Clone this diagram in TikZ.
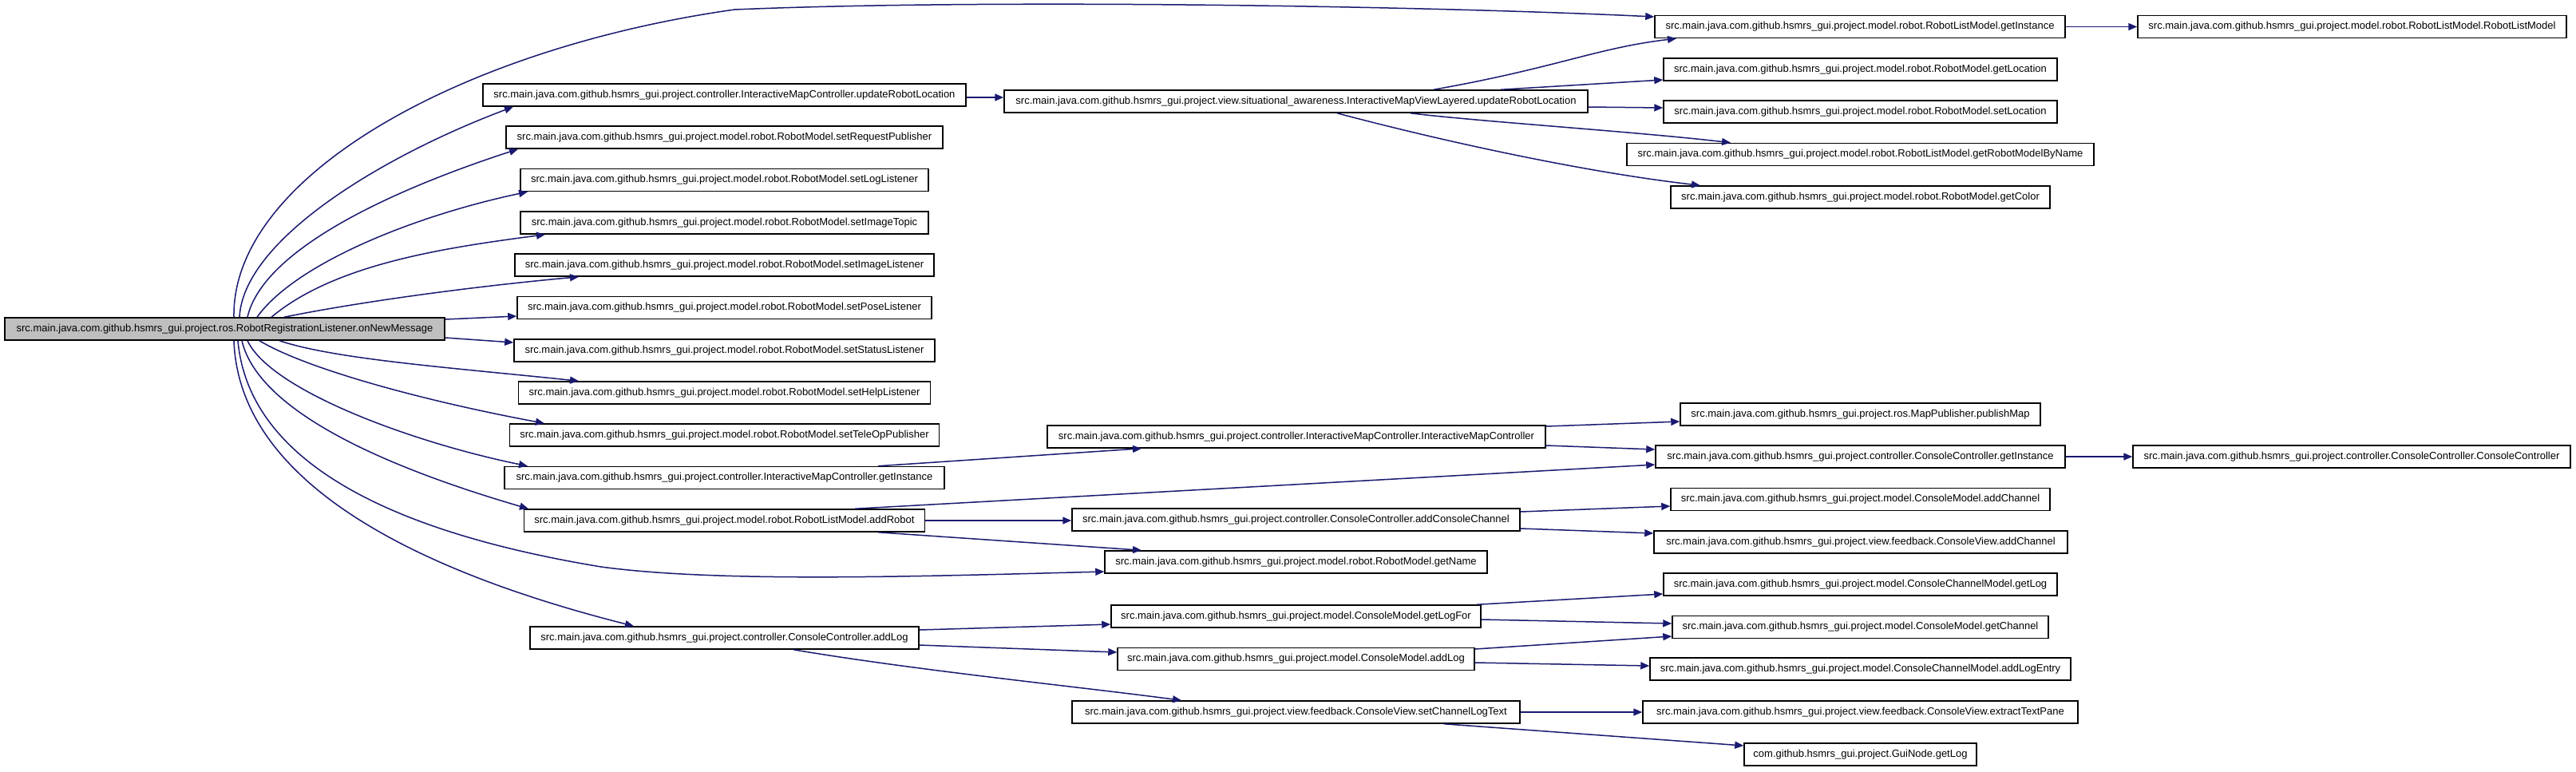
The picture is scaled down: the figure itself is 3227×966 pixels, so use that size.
\documentclass[tikz,border=0pt]{standalone}
\usepackage{fontspec}
\setmainfont{Liberation Sans}
\usetikzlibrary{arrows.meta}
\definecolor{edgec}{HTML}{191970}
\definecolor{rootfill}{HTML}{BFBFBF}
\newcommand{\pfx}{src.main.java.com.github.hsmrs\_gui.project.}
\begin{document}
\begin{tikzpicture}[x=0.5pt,y=-0.5pt,
  fn/.style={draw=black, line width=0.75pt, fill=white, minimum height=14pt, inner xsep=3pt, inner ysep=0pt, font=\fontsize{6.5pt}{7pt}\selectfont, text=black, anchor=center},
  bw/.style={minimum width=#1*0.5pt},
  call/.style={draw=edgec, line width=0.75pt, -{Triangle[length=5.5pt,width=4.5pt]}, fill=none}]
\useasboundingbox[fill=white] (0,0) rectangle (3227,966);
% column 1
\node[fn,bw=551,fill=rootfill] (root) at (281.5,412) {\pfx ros.RobotRegistrationListener.onNewMessage};
% column 2
\node[fn,bw=605] (uRL) at (907.5,119) {\pfx controller.InteractiveMapController.updateRobotLocation};
\node[fn,bw=547] (sRP) at (907.5,172) {\pfx model.robot.RobotModel.setRequestPublisher};
\node[fn,bw=511] (sLL) at (907.5,225.5) {\pfx model.robot.RobotModel.setLogListener};
\node[fn,bw=511] (sIT) at (907.5,279) {\pfx model.robot.RobotModel.setImageTopic};
\node[fn,bw=525] (sIL) at (907.5,332) {\pfx model.robot.RobotModel.setImageListener};
\node[fn,bw=519] (sPL) at (907.5,385.5) {\pfx model.robot.RobotModel.setPoseListener};
\node[fn,bw=527] (sSL) at (907.5,439) {\pfx model.robot.RobotModel.setStatusListener};
\node[fn,bw=516] (sHL) at (907.5,492) {\pfx model.robot.RobotModel.setHelpListener};
\node[fn,bw=538] (sTP) at (907.5,545) {\pfx model.robot.RobotModel.setTeleOpPublisher};
\node[fn,bw=551] (imcGI) at (907.5,598.5) {\pfx controller.InteractiveMapController.getInstance};
\node[fn,bw=502] (addRobot) at (907.5,652) {\pfx model.robot.RobotListModel.addRobot};
\node[fn,bw=487] (addLog) at (907.5,799) {\pfx controller.ConsoleController.addLog};
% column 3
\node[fn,bw=731] (imvl) at (1623.5,127) {\pfx view.situational\_awareness.InteractiveMapViewLayered.updateRobotLocation};
\node[fn,bw=624] (imcC) at (1624,547) {\pfx controller.InteractiveMapController.InteractiveMapController};
\node[fn,bw=561] (addCC) at (1623.5,651) {\pfx controller.ConsoleController.addConsoleChannel};
\node[fn,bw=479] (getName) at (1623.5,704) {\pfx model.robot.RobotModel.getName};
\node[fn,bw=463] (getLogFor) at (1623.5,772) {\pfx model.ConsoleModel.getLogFor};
\node[fn,bw=447] (cmAddLog) at (1623.5,825.5) {\pfx model.ConsoleModel.addLog};
\node[fn,bw=561] (setCLT) at (1623.5,892) {\pfx view.feedback.ConsoleView.setChannelLogText};
% column 4
\node[fn,bw=514] (rlmGI) at (2330,33.5) {\pfx model.robot.RobotListModel.getInstance};
\node[fn,bw=493] (getLoc) at (2330.5,87) {\pfx model.robot.RobotModel.getLocation};
\node[fn,bw=493] (setLoc) at (2330.5,140) {\pfx model.robot.RobotModel.setLocation};
\node[fn,bw=585] (getRMBN) at (2330.5,193.5) {\pfx model.robot.RobotListModel.getRobotModelByName};
\node[fn,bw=475] (getColor) at (2330.5,247) {\pfx model.robot.RobotModel.getColor};
\node[fn,bw=451] (publishMap) at (2330.5,519) {\pfx ros.MapPublisher.publishMap};
\node[fn,bw=513] (ccGI) at (2330.5,572) {\pfx controller.ConsoleController.getInstance};
\node[fn,bw=475] (cmAddCh) at (2330.5,625.5) {\pfx model.ConsoleModel.addChannel};
\node[fn,bw=518] (cvAddCh) at (2331,679) {\pfx view.feedback.ConsoleView.addChannel};
\node[fn,bw=493] (ccmGetLog) at (2330.5,732) {\pfx model.ConsoleChannelModel.getLog};
\node[fn,bw=471] (cmGetCh) at (2330.5,785.5) {\pfx model.ConsoleModel.getChannel};
\node[fn,bw=527] (ccmAddLE) at (2330.5,838) {\pfx model.ConsoleChannelModel.addLogEntry};
\node[fn,bw=545] (extractTP) at (2330.5,892) {\pfx view.feedback.ConsoleView.extractTextPane};
\node[fn,bw=291] (guiGetLog) at (2330.5,945) {com.github.hsmrs\_gui.project.GuiNode.getLog};
% column 5
\node[fn,bw=537] (rlmRLM) at (2946.5,33.5) {\pfx model.robot.RobotListModel.RobotListModel};
\node[fn,bw=548] (ccCC) at (2946,572) {\pfx controller.ConsoleController.ConsoleController};
% edges from root
\draw[call] (root.north -| 293,0) .. controls (290,220) and (580,60) .. (920,12) .. controls (1250,-2) and (1800,8) .. (rlmGI.west |- 0,21);
\draw[call] (root.north -| 300,0) .. controls (305,300) and (480,195) .. (uRL.south -| 643,0);
\draw[call] (root.north -| 310,0) .. controls (330,310) and (500,235) .. (sRP.south -| 649,0);
\draw[call] (root.north -| 322,0) .. controls (370,330) and (520,270) .. (sLL.south -| 661,0);
\draw[call] (root.north -| 340,0) .. controls (420,330) and (560,310) .. (sIT.south -| 683,0);
\draw[call] (root.north -| 356,0) .. controls (440,380) and (580,360) .. (sIL.south -| 725,0);
\draw[call] (root.east |- 0,400) -- (sPL.west |- 0,396);
\draw[call] (root.east |- 0,423) -- (sSL.west |- 0,429);
\draw[call] (root.south -| 350,0) .. controls (420,450) and (560,460) .. (sHL.north -| 725,0);
\draw[call] (root.south -| 325,0) .. controls (380,460) and (520,500) .. (sTP.north -| 682,0);
\draw[call] (root.south -| 310,0) .. controls (340,490) and (520,555) .. (imcGI.north -| 661,0);
\draw[call] (root.south -| 303,0) .. controls (325,520) and (500,590) .. (addRobot.north -| 662,0);
\draw[call] (root.south -| 298,0) .. controls (310,560) and (450,660) .. (753,710) .. controls (900,730) and (1150,722) .. (getName.west |- 0,716);
\draw[call] (root.south -| 293,0) .. controls (300,620) and (560,725) .. (addLog.north -| 794,0);
% other edges
\draw[call] (uRL.east |- 0,122) -- (imvl.west |- 0,122);
\draw[call] (imvl.north -| 1796,0) .. controls (1950,85) and (2000,60) .. (rlmGI.south -| 2100,0);
\draw[call] (imvl.north -| 1880,0) -- (getLoc.west |- 0,100);
\draw[call] (imvl.east |- 0,134) -- (setLoc.west |- 0,135);
\draw[call] (imvl.south -| 1767,0) .. controls (1850,152) and (2050,165) .. (getRMBN.north -| 2168,0);
\draw[call] (imvl.south -| 1675,0) .. controls (1800,175) and (1980,215) .. (getColor.north -| 2130,0);
\draw[call] (rlmGI) -- (rlmRLM);
\draw[call] (imcGI.north -| 1100,0) -- (imcC.south -| 1430,0);
\draw[call] (imcC.east |- 0,534) -- (publishMap.west |- 0,528);
\draw[call] (imcC.east |- 0,558) -- (ccGI.west |- 0,563);
\draw[call] (addRobot.north -| 1071,0) -- (ccGI.west |- 0,582);
\draw[call] (addRobot.east) -- (addRobot.east -| addCC.west);
\draw[call] (addRobot.south -| 1100,0) -- (getName.north -| 1430,0);
\draw[call] (addCC.east |- 0,641) -- (cmAddCh.west |- 0,634);
\draw[call] (addCC.east |- 0,662) -- (cvAddCh.west |- 0,668);
\draw[call] (ccGI) -- (ccCC);
\draw[call] (addLog.east |- 0,789) -- (getLogFor.west |- 0,782);
\draw[call] (addLog.east |- 0,808) -- (cmAddLog.west |- 0,817);
\draw[call] (addLog.south -| 994,0) .. controls (1150,840) and (1350,860) .. (setCLT.north -| 1480,0);
\draw[call] (getLogFor.north -| 1850,0) -- (ccmGetLog.west |- 0,744);
\draw[call] (getLogFor.east |- 0,776) -- (cmGetCh.west |- 0,781);
\draw[call] (cmAddLog.east |- 0,813) -- (cmGetCh.west |- 0,797);
\draw[call] (cmAddLog.east |- 0,830) -- (ccmAddLE.west |- 0,834);
\draw[call] (setCLT) -- (extractTP);
\draw[call] (setCLT.south -| 1809,0) -- (guiGetLog.west |- 0,934);
\end{tikzpicture}
\end{document}
